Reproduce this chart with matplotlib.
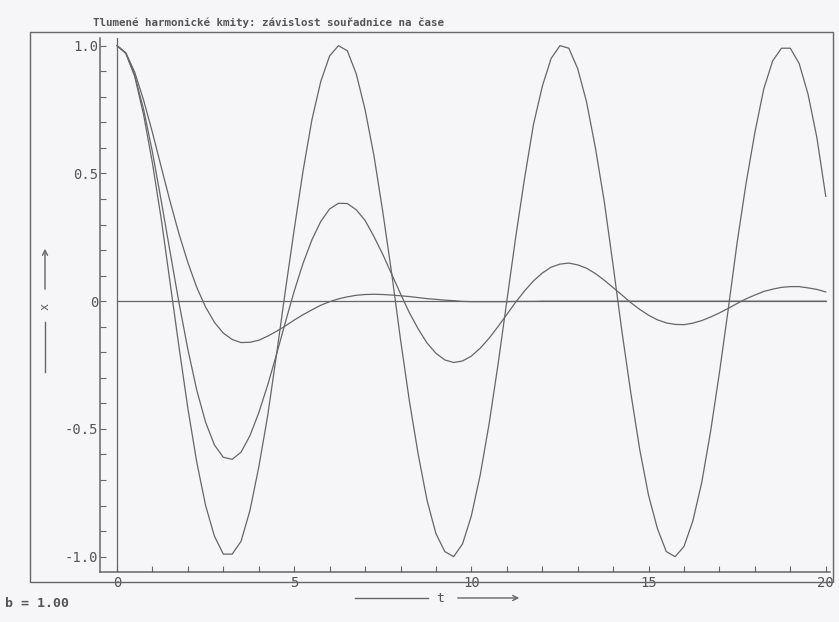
import matplotlib
matplotlib.use("Agg")
import matplotlib.pyplot as plt
from matplotlib.patches import Rectangle, FancyArrowPatch
from matplotlib.ticker import MultipleLocator

# time samples (step 0.25)
t = [i * 0.25 for i in range(81)]

# undamped oscillation
x_free = [
    1.00, 0.97, 0.88, 0.73, 0.54, 0.32, 0.07, -0.18, -0.42, -0.63, -0.80, -0.92,
    -0.99, -0.99, -0.94, -0.82, -0.65, -0.45, -0.21, 0.04, 0.28, 0.51, 0.71, 0.86,
    0.96, 1.00, 0.98, 0.89, 0.75, 0.57, 0.35, 0.11, -0.15, -0.39, -0.60, -0.78,
    -0.91, -0.98, -1.00, -0.95, -0.84, -0.68, -0.48, -0.25, 0.00, 0.25, 0.48, 0.69,
    0.84, 0.95, 1.00, 0.99, 0.91, 0.78, 0.60, 0.39, 0.14, -0.12, -0.36, -0.58,
    -0.76, -0.89, -0.98, -1.00, -0.96, -0.86, -0.71, -0.51, -0.28, -0.03, 0.23, 0.46,
    0.66, 0.83, 0.94, 0.99, 0.99, 0.93, 0.81, 0.64, 0.41,
]

# weakly damped oscillation
x_weak = [
    1.000, 0.970, 0.883, 0.751, 0.583, 0.391, 0.191, -0.007, -0.189, -0.348, -0.474, -0.563,
    -0.611, -0.619, -0.591, -0.527, -0.437, -0.329, -0.209, -0.083, 0.039, 0.148, 0.240, 0.312,
    0.361, 0.383, 0.382, 0.358, 0.316, 0.253, 0.183, 0.106, 0.029, -0.045, -0.109, -0.164,
    -0.204, -0.230, -0.240, -0.234, -0.215, -0.184, -0.145, -0.100, -0.052, -0.004, 0.040, 0.079,
    0.110, 0.133, 0.145, 0.149, 0.142, 0.129, 0.108, 0.082, 0.053, 0.024, -0.006, -0.032,
    -0.055, -0.073, -0.085, -0.091, -0.092, -0.086, -0.076, -0.062, -0.046, -0.028, -0.009, 0.009,
    0.024, 0.038, 0.047, 0.054, 0.057, 0.057, 0.052, 0.046, 0.036,
]

# strongly damped oscillation (b = 1.00)
x_strong = [
    1.000, 0.972, 0.896, 0.787, 0.660, 0.524, 0.389, 0.263, 0.151, 0.054, -0.023, -0.083,
    -0.125, -0.150, -0.162, -0.161, -0.153, -0.137, -0.118, -0.097, -0.074, -0.053, -0.034, -0.016,
    -0.002, 0.009, 0.017, 0.023, 0.026, 0.027, 0.026, 0.024, 0.021, 0.018, 0.014, 0.010,
    0.007, 0.004, 0.002, -0.001, -0.002, -0.002, -0.002, -0.002, -0.002, -0.001, -0.001, -0.001,
    0.000, 0.000, 0.000, 0.000, 0.000, 0.000, 0.000, 0.000, 0.000, 0.000, 0.000, 0.000,
    0.000, 0.000, 0.000, 0.000, 0.000, 0.000, 0.000, 0.000, 0.000, 0.000, 0.000, 0.000,
    0.000, 0.000, 0.000, 0.000, 0.000, 0.000, 0.000, 0.000, 0.000,
]

x_ticks = [0, 5, 10, 15, 20]
x_labels = ["0", "5", "10", "15", "20"]
y_ticks = [-1.0, -0.5, 0.0, 0.5, 1.0]
y_labels = ["-1.0", "-0.5", "0", "0.5", "1.0"]

title = "Tlumené harmonické kmity: závislost souřadnice na čase"
b_text = "b = 1.00"

W, H = 839, 622
ink = "#666666"
txt = "#555555"
paper = "#f6f6f8"
mono = "DejaVu Sans Mono"

fig = plt.figure(figsize=(W / 100, H / 100), dpi=100, facecolor=paper)


def fx(px):
    return px / W


def fy(py):
    return 1 - py / H


ax = fig.add_axes([fx(100), fy(572), fx(830) - fx(100), fy(38) - fy(572)])
ax.set_facecolor(paper)

for ys in (x_free, x_weak, x_strong):
    ax.plot(t, ys, color=ink, lw=0.9)
ax.plot([t[0], t[-1]], [0, 0], color=ink, lw=0.9)
ax.axvline(0, color=ink, lw=0.9)

ax.set_xlim(-0.48, 20.12)
ax.set_ylim(-1.06, 1.03)

for s in ("top", "right"):
    ax.spines[s].set_visible(False)
for s in ("left", "bottom"):
    ax.spines[s].set_color(ink)
    ax.spines[s].set_linewidth(1.1)

ax.set_xticks(x_ticks)
ax.set_xticklabels(x_labels)
ax.set_yticks(y_ticks)
ax.set_yticklabels(y_labels)
ax.xaxis.set_minor_locator(MultipleLocator(1))
ax.yaxis.set_minor_locator(MultipleLocator(0.1))
ax.tick_params(which="both", direction="in", color=ink, width=0.8, length=4,
               labelcolor=txt, labelsize=10)
ax.tick_params(axis="y", pad=1)
ax.tick_params(axis="x", pad=3)
for lab in ax.get_xticklabels() + ax.get_yticklabels():
    lab.set_fontfamily(mono)

# outer frame
fig.add_artist(Rectangle((fx(30), fy(582)), fx(833) - fx(30), fy(32) - fy(582),
                         transform=fig.transFigure, fill=False, ec=ink, lw=1.0))

fig.text(fx(93), fy(26), title, family=mono, fontsize=7.8, color=txt,
         ha="left", va="baseline", weight="bold")
fig.text(fx(5), fy(607), b_text, family=mono, fontsize=9.5, color=txt,
         ha="left", va="baseline", weight="bold")

# axis names with arrows
arrow = dict(arrowstyle="->", color=ink, lw=1.0, mutation_scale=9)
fig.add_artist(plt.Line2D([fx(45), fx(45)], [fy(372), fy(322)], color=ink, lw=1.0))
fig.text(fx(45), fy(306), "x", family=mono, fontsize=8.5, color=txt,
         rotation=90, ha="center", va="center")
fig.add_artist(FancyArrowPatch((fx(45), fy(292)), (fx(45), fy(246)),
                               transform=fig.transFigure, **arrow))
fig.add_artist(plt.Line2D([fx(355), fx(428)], [fy(598), fy(598)], color=ink, lw=1.0))
fig.text(fx(440), fy(598), "t", family=mono, fontsize=9.5, color=txt,
         ha="center", va="center")
fig.add_artist(FancyArrowPatch((fx(455), fy(598)), (fx(522), fy(598)),
                               transform=fig.transFigure, **arrow))

fig.savefig("out.png", dpi=100, facecolor=paper)
